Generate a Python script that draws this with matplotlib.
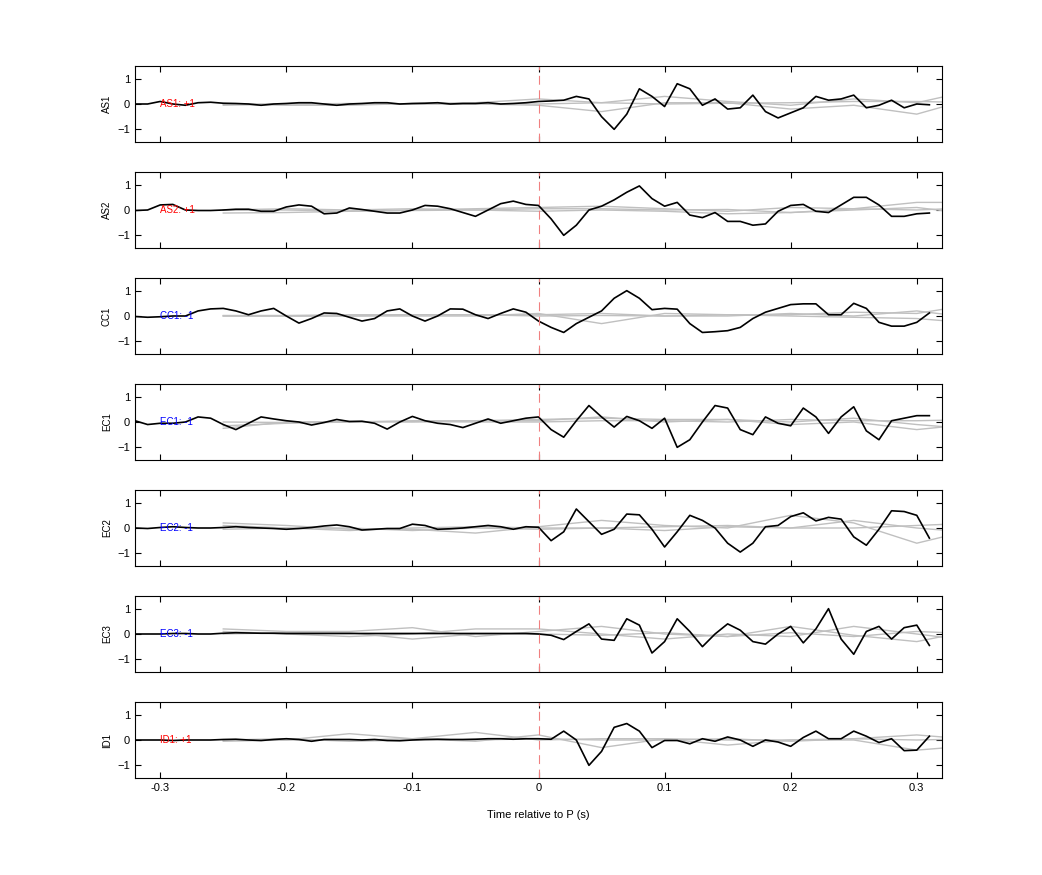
import numpy as np
import matplotlib.pyplot as plt

plt.rcParams['font.family'] = ['Liberation Sans', 'DejaVu Sans']

# sample times of the black traces (s)
t = np.round(np.arange(-0.32, 0.315, 0.01), 2)
# sample times of the grey traces (s)
tg = np.round(np.arange(-0.25, 0.351, 0.05), 2)

stations = ['AS1', 'AS2', 'CC1', 'EC1', 'EC2', 'EC3', 'ID1']
polarity = ['+1', '+1', '-1', '-1', '-1', '-1', '+1']

as1 = [0, 0, 0.1, 0, -0.05, 0.05, 0.07, 0.03, 0.02, 0, -0.05, 0, 0.02, 0.05, 0.05, 0,
       -0.05, 0, 0.02, 0.05, 0.05, 0, 0.02, 0.03, 0.05, 0, 0.02, 0.02, 0.05, 0, 0.02, 0.05,
       0.1, 0.12, 0.15, 0.3, 0.2, -0.5, -1.0, -0.4, 0.6, 0.3, -0.1, 0.8, 0.6, -0.05, 0.2, -0.2,
       -0.15, 0.35, -0.3, -0.55, -0.35, -0.15, 0.3, 0.15, 0.2, 0.35, -0.15, -0.05, 0.15, -0.15, 0.0, -0.03]
as2 = [-0.02, 0, 0.2, 0.22, 0, -0.02, -0.02, 0, 0.03, 0.03, -0.05, -0.05, 0.12, 0.2, 0.15, -0.15,
       -0.12, 0.08, 0.02, -0.05, -0.12, -0.12, 0, 0.18, 0.15, 0.05, -0.1, -0.25, 0.0, 0.25, 0.35, 0.22,
       0.18, -0.35, -1.0, -0.6, 0.0, 0.15, 0.4, 0.7, 0.95, 0.45, 0.15, 0.3, -0.2, -0.3, -0.1, -0.45,
       -0.45, -0.6, -0.55, -0.05, 0.18, 0.22, -0.05, -0.1, 0.2, 0.5, 0.5, 0.2, -0.25, -0.25, -0.15, -0.12]
cc1 = [-0.02, -0.05, -0.03, 0.0, 0.0, 0.2, 0.28, 0.3, 0.2, 0.05, 0.2, 0.3, 0.0, -0.28, -0.1, 0.12,
       0.1, -0.05, -0.2, -0.1, 0.2, 0.28, 0.0, -0.2, 0.0, 0.28, 0.27, 0.05, -0.1, 0.1, 0.28, 0.15,
       -0.2, -0.45, -0.65, -0.3, -0.05, 0.2, 0.7, 1.0, 0.7, 0.25, 0.3, 0.27, -0.3, -0.65, -0.62, -0.58,
       -0.45, -0.1, 0.15, 0.3, 0.45, 0.48, 0.48, 0.05, 0.05, 0.5, 0.3, -0.25, -0.4, -0.4, -0.25, 0.12]
ec1 = [0.05, -0.1, -0.05, -0.05, 0.0, 0.2, 0.15, -0.1, -0.3, -0.05, 0.2, 0.12, 0.05, 0.0, -0.12, -0.02,
       0.1, 0.02, 0.03, -0.05, -0.28, 0.0, 0.22, 0.05, -0.05, -0.1, -0.22, -0.05, 0.12, -0.05, 0.05, 0.15,
       0.2, -0.3, -0.6, 0.05, 0.65, 0.2, -0.2, 0.22, 0.05, -0.25, 0.15, -1.0, -0.7, 0.0, 0.65, 0.55,
       -0.3, -0.5, 0.2, -0.05, -0.15, 0.55, 0.2, -0.45, 0.2, 0.6, -0.35, -0.7, 0.05, 0.15, 0.25, 0.25]
ec2 = [0, -0.02, 0.02, 0.05, 0.02, 0, 0, 0.02, 0.05, 0.02, 0, -0.02, -0.05, -0.02, 0.02, 0.08,
       0.12, 0.05, -0.08, -0.05, -0.02, -0.02, 0.15, 0.1, -0.05, -0.03, 0, 0.05, 0.1, 0.05, -0.05, 0.05,
       0.03, -0.5, -0.15, 0.75, 0.25, -0.25, -0.05, 0.55, 0.52, -0.05, -0.75, -0.15, 0.5, 0.3, 0.0, -0.6,
       -0.95, -0.6, 0.05, 0.1, 0.45, 0.6, 0.28, 0.42, 0.35, -0.35, -0.68, -0.05, 0.68, 0.65, 0.5, -0.4]
ec3 = [0, 0, 0, 0.02, 0.02, 0, 0, 0.03, 0.05, 0.04, 0.03, 0.03, 0.02, 0.02, 0.02, 0.02,
       0.02, 0.02, 0.02, 0.02, 0.02, 0.02, 0.02, 0.02, 0.02, 0.02, 0.02, 0.02, 0.02, 0.02, 0.02, 0.02,
       0.0, -0.05, -0.22, 0.1, 0.4, -0.2, -0.25, 0.6, 0.35, -0.75, -0.3, 0.6, 0.1, -0.5, 0.0, 0.4,
       0.15, -0.3, -0.4, 0.0, 0.3, -0.35, 0.2, 1.0, -0.2, -0.8, 0.1, 0.3, -0.2, 0.25, 0.35, -0.45]
id1 = [0, 0, 0, -0.02, 0, 0, 0, 0.02, 0.03, 0, -0.02, 0.02, 0.05, 0.02, -0.05, 0.02,
       0.02, 0.02, 0, 0.02, -0.02, -0.03, 0, 0.02, 0.03, 0.02, 0.02, 0.03, 0.05, 0.05, 0.03, 0.05,
       0.05, 0.03, 0.35, 0.0, -1.0, -0.45, 0.5, 0.65, 0.35, -0.3, -0.02, -0.02, -0.15, 0.05, -0.05, 0.12,
       0.0, -0.25, 0.0, -0.08, -0.25, 0.1, 0.35, 0.05, 0.05, 0.35, 0.15, -0.1, 0.05, -0.42, -0.4, 0.15]
black = [as1, as2, cc1, ec1, ec2, ec3, id1]

# grey (synthetic) traces, sampled every 0.05 s from -0.25 s
grey = [
    [[0, -0.05, -0.05, 0.02, 0.05, 0.2, 0.05, 0.3, 0.1, -0.05, 0.2, 0.05, 0.6],
     [0, 0.0, 0.0, 0.0, 0.0, -0.05, -0.3, 0.05, 0.05, -0.2, -0.05, -0.4, 0.3],
     [-0.05, 0.0, 0.02, 0.0, 0.02, 0.0, 0.05, 0.0, 0.03, 0.05, 0.1, 0.1, 0.05]],
    [[-0.12, -0.1, -0.05, 0.0, 0.05, 0.1, 0.15, 0.05, -0.05, 0.1, 0.05, 0.3, 0.3],
     [0, 0.05, 0.0, 0.05, 0.0, 0.05, 0.05, 0.0, 0.02, -0.1, 0.0, 0.1, -0.2],
     [0, 0.0, -0.05, -0.02, 0.0, -0.05, 0.0, -0.05, -0.15, -0.1, 0.05, 0.0, 0.1]],
    [[0, 0.0, 0.0, 0.05, 0.05, 0.05, 0.1, 0.0, 0.05, 0.05, 0.15, 0.1, 0.5],
     [0, 0.0, 0.0, 0.0, 0.0, 0.1, -0.3, 0.1, 0.05, 0.0, -0.05, -0.1, -0.3],
     [0.02, 0.02, 0.05, 0.05, 0.05, 0.0, 0.02, 0.0, 0.0, 0.1, 0.0, 0.2, -0.1]],
    [[-0.15, -0.05, 0.0, 0.05, 0.05, 0.1, 0.15, 0.1, 0.1, 0.0, 0.15, -0.1, -0.3],
     [-0.25, 0.0, 0.02, 0.0, 0.05, 0.05, 0.2, 0.0, 0.1, -0.1, 0.0, -0.3, -0.05],
     [0, -0.02, 0.0, 0.02, 0.0, 0.0, 0.05, 0.05, 0.0, 0.1, 0.05, 0.05, 0.1]],
    [[0.2, 0.1, -0.05, -0.05, -0.2, 0.05, 0.3, 0.1, 0.0, 0.5, 0.2, -0.6, 0.0],
     [0.1, 0.0, -0.1, 0.0, 0.05, 0.0, 0.0, 0.05, 0.1, 0.0, 0.3, 0.0, -0.2],
     [-0.05, 0.0, 0.0, -0.1, 0.0, -0.05, 0.0, -0.1, 0.05, 0.0, 0.0, 0.1, 0.2]],
    [[0.2, 0.1, 0.1, 0.25, -0.1, 0.1, 0.3, 0.0, -0.1, 0.3, -0.05, -0.3, 0.2],
     [0.1, 0.0, -0.1, 0.0, 0.2, 0.2, 0.0, -0.2, 0.0, -0.1, 0.3, 0.0, -0.3],
     [0.0, 0.05, 0.05, -0.2, 0.0, 0.0, -0.05, 0.05, -0.1, 0.05, -0.1, 0.1, 0.0]],
    [[0.0, 0.0, 0.25, 0.05, 0.3, 0.0, 0.05, 0.05, 0.0, 0.0, 0.05, 0.2, 0.0],
     [-0.05, 0.0, 0.0, 0.05, -0.05, 0.2, -0.3, 0.05, -0.2, 0.0, 0.0, -0.4, -0.2],
     [0.0, 0.05, -0.05, 0.0, 0.0, 0.05, 0.0, 0.0, 0.05, -0.05, 0.05, 0.0, 0.05]],
]

fig = plt.figure(figsize=(10.42, 8.75), dpi=100)
left, width = 135 / 1042, 807 / 1042
height = 76 / 875
for i, name in enumerate(stations):
    top = 66 + 106 * i
    ax = fig.add_axes([left, 1 - (top + 76) / 875, width, height])
    for g in grey[i]:
        ax.plot(tg, g, color='#c0c0c0', lw=1)
    ax.plot(t, black[i], color='black', lw=1.2)
    ax.axvline(0, color='#f08080', lw=0.8, ls=(0, (8, 5)))
    col = 'red' if polarity[i] == '+1' else 'blue'
    ax.text(-0.3, 0, f'{name}: {polarity[i]}', color=col, fontsize=7, va='center', ha='left')
    ax.set_xlim(-0.32, 0.32)
    ax.set_ylim(-1.5, 1.5)
    ax.set_yticks([-1, 0, 1])
    ax.set_xticks([-0.3, -0.2, -0.1, 0, 0.1, 0.2, 0.3])
    ax.tick_params(direction='in', top=True, right=True, labelsize=8, length=4)
    ax.set_ylabel(name, fontsize=7)
    if i < len(stations) - 1:
        ax.set_xticklabels([])
    else:
        ax.set_xticklabels(['-0.3', '-0.2', '-0.1', '0', '0.1', '0.2', '0.3'])
        ax.set_xlabel('Time relative to P (s)', fontsize=8, labelpad=12)

fig.savefig('out.png', dpi=100)
